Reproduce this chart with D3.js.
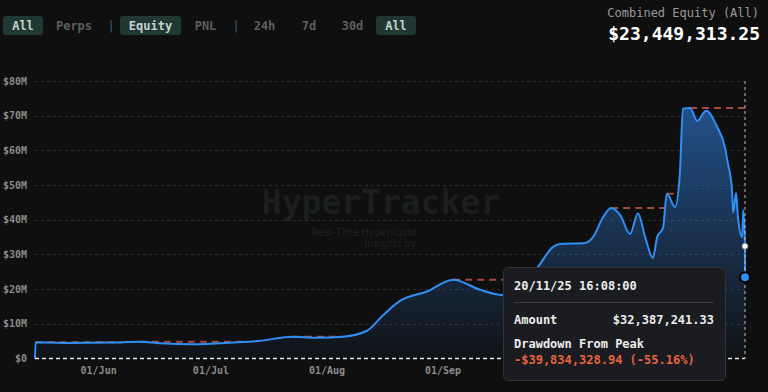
<!DOCTYPE html>
<html>
<head>
<meta charset="utf-8">
<script src="https://cdn.jsdelivr.net/npm/d3@7"></script>
<style>
  html, body { margin: 0; padding: 0; background: #0f0f0f; }
  svg { display: block; }
</style>
</head>
<body>
<div id="chart"></div>
<script>
// equity history (values in $M)
const dates = [
  "2025-05-15T00:00", "2025-05-15T04:00", "2025-05-23T12:00", "2025-06-04T00:00",
  "2025-06-12T00:00", "2025-06-17T09:00", "2025-06-26T05:00", "2025-07-06T22:00",
  "2025-07-14T02:00", "2025-07-22T22:00", "2025-07-29T07:00", "2025-08-05T07:00",
  "2025-08-11T17:00", "2025-08-16T00:00", "2025-08-20T12:00", "2025-08-27T17:00",
  "2025-09-03T17:00", "2025-09-10T22:00", "2025-09-16T19:00", "2025-09-21T14:00",
  "2025-09-26T02:00", "2025-09-30T10:00", "2025-10-02T07:00", "2025-10-08T22:00",
  "2025-10-11T02:00", "2025-10-13T19:00", "2025-10-15T22:00", "2025-10-18T07:00",
  "2025-10-21T00:00", "2025-10-23T02:00", "2025-10-25T00:00", "2025-10-27T02:00",
  "2025-10-28T05:00", "2025-10-29T19:00", "2025-10-30T19:00", "2025-11-02T00:00",
  "2025-11-03T07:00", "2025-11-04T02:00", "2025-11-06T00:00", "2025-11-07T22:00",
  "2025-11-10T07:00", "2025-11-13T05:00", "2025-11-15T07:00", "2025-11-16T02:00",
  "2025-11-17T05:00", "2025-11-17T12:00", "2025-11-18T07:00", "2025-11-18T19:00",
  "2025-11-19T22:00", "2025-11-20T05:00", "2025-11-20T16:08", "2025-11-20T16:20"
];
const equity = [
  0, 4.7, 4.5, 4.6,
  4.85, 4.4, 4.1, 4.6,
  5.1, 6.3, 6.0, 6.3,
  8.0, 12.5, 16.6, 19.3,
  22.7, 19.8, 18.3, 21.5,
  26.0, 32.2, 33.0, 33.3,
  35.0, 40.8, 43.4, 41.4,
  35.9, 41.9, 35.0, 29.0,
  35.0, 37.7, 47.5, 43.7,
  53.5, 72.0, 72.22157027, 68.5,
  71.4, 66.8, 61.0, 56.4,
  48.6, 42.0, 47.7, 40.8,
  35.0, 42.8, 32.38724133, 23.44931325
];
const yTicks = [0, 10, 20, 30, 40, 50, 60, 70, 80];
const modes = ["All", "Perps", "|", "Equity", "PNL", "|", "24h", "7d", "30d", "All"];
const activeModes = [0, 3, 9];

const headerLabel = "Combined Equity (All)";
const headerValue = "$23,449,313.25";
const tipDate = "20/11/25 16:08:00";
const tipAmount = "$32,387,241.33";
const tipDrawdown = "-$39,834,328.94 (-55.16%)";

const width = 768, height = 392;
const mono = "'DejaVu Sans Mono', monospace";

const parseTime = d3.timeParse('%Y-%m-%dT%H:%M');
const pts = dates.map((d, i) => ({ date: parseTime(d), value: equity[i] }));

const svg = d3.select('#chart')
    .append('svg')
    .attr('width', width)
    .attr('height', height)
    .style('background', '#0f0f0f');

const x = d3.scaleTime()
    .domain(d3.extent(pts, d => d.date))
    .range([35, 745]);
const y = d3.scaleLinear()
    .domain([0, 80])
    .range([358.5, 81]);

// tooltip box (it covers the last x labels)
const tipBox = { x: 503.5, y: 267.5, w: 222, h: 113 };

// buttons row
const btnX = [3, 56, 108, 120, 195, 233, 254, 302, 342, 376];
const btnW = [40, 36, 6, 61, 21, 6, 21, 14, 21, 40];
const bar = svg.append('g');
modes.forEach((m, i) => {
    const active = activeModes.includes(i);
    if (active) {
        bar.append('rect')
            .attr('x', btnX[i]).attr('y', 16)
            .attr('width', btnW[i]).attr('height', 19)
            .attr('rx', 3)
            .attr('fill', '#1f3833');
    }
    bar.append('text')
        .attr('x', btnX[i] + btnW[i] / 2)
        .attr('y', 30)
        .attr('text-anchor', 'middle')
        .style('font-family', mono)
        .style('font-size', '12px')
        .style('font-weight', m === '|' ? 'normal' : 'bold')
        .attr('fill', m === '|' ? '#3d5f80' : (active ? '#c3d3cb' : '#5d5f5e'))
        .text(m);
});

svg.append('text')
    .attr('x', 759).attr('y', 17)
    .attr('text-anchor', 'end')
    .style('font-family', mono).style('font-size', '12px')
    .attr('fill', '#9a9a9a')
    .text(headerLabel);
svg.append('text')
    .attr('x', 760).attr('y', 40)
    .attr('text-anchor', 'end')
    .style('font-family', mono).style('font-size', '18px').style('font-weight', 'bold')
    .attr('fill', '#ffffff')
    .text(headerValue);

// watermark
const wm = svg.append('g');
wm.append('text')
    .attr('x', 381).attr('y', 214)
    .attr('text-anchor', 'middle')
    .style('font-family', mono).style('font-size', '33px').style('font-weight', 'bold')
    .attr('fill', '#1a1e1e')
    .text('HyperTracker');
wm.append('text')
    .attr('x', 416).attr('y', 236)
    .attr('text-anchor', 'end')
    .style('font-family', 'Inter, sans-serif').style('font-size', '10px')
    .attr('fill', '#1e2222')
    .text('Real-Time Hyperliquid');
wm.append('text')
    .attr('x', 416).attr('y', 247)
    .attr('text-anchor', 'end')
    .style('font-family', 'Inter, sans-serif').style('font-size', '10px')
    .attr('fill', '#1e2222')
    .text('Insights by');

// grid + y labels
const grid = svg.append('g');
grid.selectAll('.grid')
    .data(yTicks.filter(d => d > 0))
    .enter()
    .append('line')
    .attr('x1', 35).attr('x2', 745)
    .attr('y1', d => Math.round(y(d)) + 0.5)
    .attr('y2', d => Math.round(y(d)) + 0.5)
    .attr('stroke', '#2c2c2c')
    .attr('stroke-dasharray', '3,3');
grid.selectAll('.ylab')
    .data(yTicks)
    .enter()
    .append('text')
    .attr('x', 27)
    .attr('y', d => y(d) + 3.5)
    .attr('text-anchor', 'end')
    .style('font-family', mono).style('font-size', '10px').style('font-weight', 'bold')
    .attr('fill', '#8a8a8a')
    .text(d => d === 0 ? '$0' : `$${d}M`);

// x axis labels (the ones under the tooltip are hidden)
const xFmt = d3.timeFormat('%d/%b');
svg.append('g')
    .selectAll('text')
    .data(x.ticks(d3.timeMonth.every(1)).filter(d => x(d) + 20 < tipBox.x))
    .enter()
    .append('text')
    .attr('x', d => x(d))
    .attr('y', 374)
    .attr('text-anchor', 'middle')
    .style('font-family', mono).style('font-size', '10px').style('font-weight', 'bold')
    .attr('fill', '#8a8a8a')
    .text(d => xFmt(d));

// area gradient
const defs = svg.append('defs');
const grad = defs.append('linearGradient')
    .attr('id', 'eqFill')
    .attr('gradientUnits', 'userSpaceOnUse')
    .attr('x1', 0).attr('x2', 0)
    .attr('y1', y(72)).attr('y2', y(0));
grad.append('stop').attr('offset', '0%').attr('stop-color', '#2a6fc0').attr('stop-opacity', 0.68);
grad.append('stop').attr('offset', '100%').attr('stop-color', '#2a6fc0').attr('stop-opacity', 0.04);

const area = d3.area()
    .x(d => x(d.date))
    .y0(y(0))
    .y1(d => y(d.value))
    .curve(d3.curveMonotoneX);
svg.append('path')
    .datum(pts)
    .attr('d', area)
    .attr('fill', 'url(#eqFill)');

// drawdown-from-peak segments
let peak = -Infinity, peakDate = null, cur = null;
const segs = [];
pts.forEach((p, i) => {
    if (p.value >= peak) {
        if (cur) {
            const prev = pts[i - 1];
            const t = (cur.level - prev.value) / (p.value - prev.value);
            cur.end = new Date(+prev.date + t * (p.date - prev.date));
            segs.push(cur);
            cur = null;
        }
        peak = p.value;
        peakDate = p.date;
    } else if (!cur) {
        cur = { level: peak, start: peakDate };
    }
});
if (cur) { cur.end = pts[pts.length - 1].date; segs.push(cur); }

svg.append('g')
    .selectAll('line')
    .data(segs)
    .enter()
    .append('line')
    .attr('x1', d => x(d.start))
    .attr('x2', d => x(d.end))
    .attr('y1', d => y(d.level))
    .attr('y2', d => y(d.level))
    .attr('stroke', '#a3493b')
    .attr('stroke-width', 2)
    .attr('stroke-dasharray', '7,5');

// equity line
const line = d3.line()
    .x(d => x(d.date))
    .y(d => y(d.value))
    .curve(d3.curveMonotoneX);
svg.append('path')
    .datum(pts)
    .attr('d', line)
    .attr('fill', 'none')
    .attr('stroke', '#2f8ff5')
    .attr('stroke-width', 2);

// baseline + crosshair
const hover = pts[pts.length - 2];
const last = pts[pts.length - 1];
svg.append('line')
    .attr('x1', 35).attr('x2', x(last.date))
    .attr('y1', y(0)).attr('y2', y(0))
    .attr('stroke', '#e6e6e6')
    .attr('stroke-width', 1.5)
    .attr('stroke-dasharray', '4,3');
svg.append('line')
    .attr('x1', x(last.date)).attr('x2', x(last.date))
    .attr('y1', y(80)).attr('y2', y(0))
    .attr('stroke', '#bdbdbd')
    .attr('stroke-dasharray', '3,3');

svg.append('circle')
    .attr('cx', x(hover.date)).attr('cy', y(hover.value))
    .attr('r', 3)
    .attr('fill', '#ffffff')
    .attr('stroke', '#888')
    .attr('stroke-width', 1);
svg.append('circle')
    .attr('cx', x(last.date)).attr('cy', y(last.value))
    .attr('r', 5)
    .attr('fill', '#2f8ff5')
    .attr('stroke', '#000')
    .attr('stroke-width', 2);

// tooltip
const tip = svg.append('g');
tip.append('rect')
    .attr('x', tipBox.x).attr('y', tipBox.y)
    .attr('width', tipBox.w).attr('height', tipBox.h)
    .attr('rx', 5)
    .attr('fill', '#1b1c22')
    .attr('stroke', '#33343a');
tip.append('line')
    .attr('x1', 514).attr('x2', 714)
    .attr('y1', 302.5).attr('y2', 302.5)
    .attr('stroke', '#3a3b42');
const tipText = (tx, ty, t, color, anchor) => tip.append('text')
    .attr('x', tx).attr('y', ty)
    .attr('text-anchor', anchor || 'start')
    .style('font-family', mono).style('font-size', '12px').style('font-weight', 'bold')
    .attr('fill', color)
    .text(t);
tipText(514, 290, tipDate, '#ececec');
tipText(514, 324, 'Amount', '#ececec');
tipText(714, 324, tipAmount, '#ececec', 'end');
tipText(514, 348, 'Drawdown From Peak', '#ececec');
tipText(514, 364, tipDrawdown, '#e8633e');
</script>
</body>
</html>
